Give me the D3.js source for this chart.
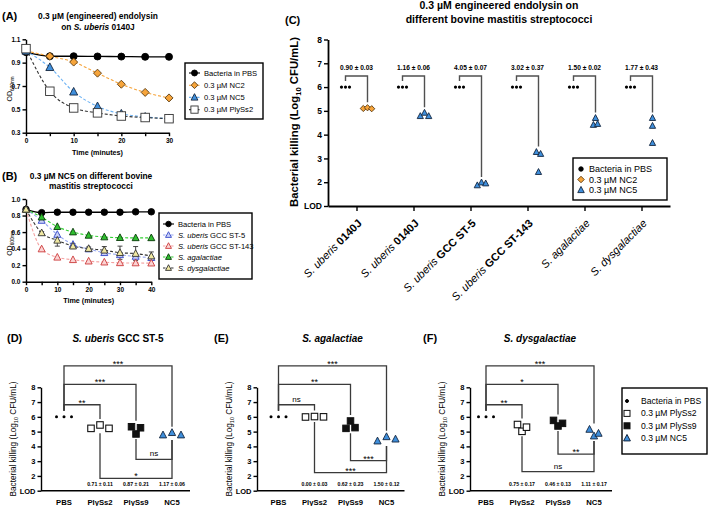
<!DOCTYPE html>
<html><head><meta charset="utf-8">
<script src="https://cdn.jsdelivr.net/npm/d3@7"></script>
<style>body{margin:0;background:#fff}svg{display:block}</style>
</head><body><script>
// ================= DATA =================
// Panel A
const timeA = [0,5,10,15,20,25,30];
const odA_PBS = [0.99,0.955,0.955,0.953,0.952,0.95,0.95];
const odA_NC2 = [1.0,0.955,0.905,0.81,0.715,0.645,0.598];
const odA_NC5 = [1.0,0.86,0.65,0.525,0.462,0.435,0.42];
const odA_PlySs2 = [1.02,0.655,0.512,0.47,0.443,0.43,0.42];
const ticksA_y = [0.3,0.5,0.7,0.9,1.1];
const ticksA_x = [0,5,10,15,20,25,30];
const legendA = ["Bacteria in PBS","0.3 µM NC2","0.3 µM NC5","0.3 µM PlySs2"];
// Panel B
const timeB = [0,5,10,15,20,25,30,35,40];
const odB_PBS = [0.875,0.835,0.84,0.84,0.84,0.84,0.84,0.845,0.845];
const odB_ST5 = [0.875,0.74,0.57,0.45,0.395,0.35,0.325,0.305,0.29];
const odB_ST143 = [0.875,0.395,0.295,0.265,0.248,0.236,0.228,0.226,0.224];
const odB_Aga = [0.875,0.78,0.665,0.60,0.56,0.54,0.532,0.53,0.53];
const odB_Dys = [0.875,0.59,0.50,0.43,0.40,0.38,0.35,0.34,0.31];
const errB_Dys = [0,0.015,0.07,0.03,0.02,0.045,0.08,0.085,0.05];
const ticksB_y = [0,0.2,0.4,0.6,0.8,1.0];
const ticksB_x = [0,5,10,15,20,25,30,35,40];
// Panel C
const cSpecies = ["S. uberis","S. uberis","S. uberis","S. uberis","S. agalactiae","S. dysgalactiae"];
const cStrain = ["0140J","0140J","GCC ST-5","GCC ST-143","",""];
const cTreatment = ["NC2","NC5","NC5","NC5","NC5","NC5"];
const cPBS = [[6,6,6],[6,6,6],[6,6,6],[6,6,6],[6,6,6],[6,6,6]];
const cTreated = [[5.1,5.13,5.09],[4.78,4.92,4.78],[1.87,1.99,1.95],[3.27,2.43,3.19],[4.70,4.41,4.45],[4.70,4.37,3.65]];
const cDiff = ["0.90 ± 0.03","1.16 ± 0.06","4.05 ± 0.07","3.02 ± 0.37","1.50 ± 0.02","1.77 ± 0.43"];
const killTicks = [1,2,3,4,5,6,7,8];
// Panels D, E, F
const killCats = ["PBS","PlySs2","PlySs9","NC5"];
const sigPairs = [["PBS","NC5"],["PBS","PlySs9"],["PBS","PlySs2"],["PlySs9","NC5"],["PlySs2","NC5"]];
const dValues = [[6,6,6],[5.22,5.45,5.22],[5.33,4.84,5.26],[4.77,4.93,4.77]];
const eValues = [[6,6,6],[5.99,6.02,6.0],[5.22,5.72,5.27],[4.36,4.65,4.49]];
const fValues = [[6,6,6],[5.48,5.02,5.30],[5.76,5.38,5.56],[5.15,4.70,4.88]];
const dSig = ["***","***","**","ns","*"];
const eSig = ["***","**","ns","***","***"];
const fSig = ["***","*","**","**","ns"];
const dDiff = ["0.71 ± 0.11","0.87 ± 0.21","1.17 ± 0.06"];
const eDiff = ["0.00 ± 0.03","0.62 ± 0.23","1.50 ± 0.12"];
const fDiff = ["0.75 ± 0.17","0.46 ± 0.13","1.11 ± 0.17"];
const legendF = ["Bacteria in PBS","0.3 µM PlySs2","0.3 µM PlySs9","0.3 µM NC5"];

// ================= HELPERS =================
const FONT = '"Liberation Sans", Arial, Helvetica, sans-serif';
const svg = d3.select("body").append("svg").attr("width",709).attr("height",506)
  .style("font-family",FONT);

function styleAxis(g, fs, weight){
  g.attr("font-family",FONT).attr("font-size",fs).attr("font-weight",weight);
  g.select(".domain").attr("stroke","#000").attr("stroke-width",1.4);
  g.selectAll(".tick line").attr("stroke","#000").attr("stroke-width",1.4);
  g.selectAll(".tick text").attr("fill","#000");
}
function rich(g, x, y, parts, size, anchor, transform){
  const t = g.append("text").attr("x",x).attr("y",y).attr("font-size",size)
    .attr("text-anchor",anchor||"start").attr("fill","#000");
  if(transform) t.attr("transform",transform);
  parts.forEach(p=>{
    const [s,st] = typeof p==="string" ? [p,""] : p;
    const ts = t.append("tspan").text(s);
    if(st.includes("b")) ts.attr("font-weight","bold");
    if(st.includes("i")) ts.attr("font-style","italic");
    if(st.includes("s")) ts.attr("font-size",size*0.68).attr("dy",size*0.3);
    if(st.includes("r")) ts.attr("dy",-size*0.3);
  });
  return t;
}
function marker(g, type, x, y, s, fill, stroke, sw){
  let p;
  if(type==="circle") p = g.append("circle").attr("cx",x).attr("cy",y).attr("r",s/2);
  else if(type==="square") p = g.append("rect").attr("x",x-s/2).attr("y",y-s/2).attr("width",s).attr("height",s);
  else if(type==="diamond") p = g.append("path").attr("d",`M${x},${y-s/2}L${x+s/2},${y}L${x},${y+s/2}L${x-s/2},${y}Z`);
  else p = g.append("path").attr("d",`M${x},${y-s*0.55}L${x+s/2},${y+s*0.4}L${x-s/2},${y+s*0.4}Z`);
  p.attr("fill",fill).attr("stroke",stroke).attr("stroke-width",sw);
}
function swarm(vals, yScale, size, step){
  const idx = vals.map((v,i)=>i).sort((a,b)=>vals[b]-vals[a]);
  const rows = [];
  idx.forEach(i=>{
    const r = rows[rows.length-1];
    if(r && Math.abs(yScale(vals[i])-yScale(vals[r[0]])) < size*0.75) r.push(i); else rows.push([i]);
  });
  const off = vals.map(()=>0);
  rows.forEach(r=>{ r.sort((a,b)=>a-b); r.forEach((i,k)=>off[i]=(k-(r.length-1)/2)*step); });
  return off;
}

// ================= PANEL A & B (line charts) =================
function linePanel(cfg){
  const g = svg.append("g");
  const x = d3.scaleLinear().domain(cfg.xDomain).range(cfg.xRange);
  const y = d3.scaleLinear().domain(cfg.yDomain).range(cfg.yRange);
  const ya = g.append("g").attr("transform",`translate(${cfg.xRange[0]},0)`)
    .call(d3.axisLeft(y).tickValues(cfg.yTicks).tickFormat(d3.format(".1f")).tickSize(3.5).tickSizeOuter(0).tickPadding(2));
  styleAxis(ya,6.5,"bold");
  const xa = g.append("g").attr("transform",`translate(0,${cfg.yRange[0]})`)
    .call(d3.axisBottom(x).tickValues(cfg.xTicks).tickFormat(d=>d%10===0?d:"").tickSize(3.5).tickSizeOuter(0).tickPadding(2));
  styleAxis(xa,6.5,"bold");
  const line = d3.line().x((d,i)=>x(cfg.time[i])).y(d=>y(d)).curve(d3.curveMonotoneX);
  cfg.series.forEach(s=>{
    g.append("path").attr("d",line(s.values)).attr("fill","none").attr("stroke",s.line)
      .attr("stroke-width",s.dash?1.1:1.3).attr("stroke-dasharray",s.dash?"3,2":null);
  });
  cfg.series.forEach(s=>{ if(s.err) s.values.forEach((v,i)=>{
    const e=s.err[i]; if(!e) return; const xx=x(cfg.time[i]);
    g.append("path").attr("d",`M${xx},${y(v-e)}V${y(v+e)}M${xx-2.5},${y(v+e)}H${xx+2.5}M${xx-2.5},${y(v-e)}H${xx+2.5}`)
      .attr("stroke","#333").attr("stroke-width",0.9).attr("fill","none");
  });});
  cfg.series.forEach(s=>s.values.forEach((v,i)=>marker(g,s.shape,x(cfg.time[i]),y(v),s.size,s.fill,s.stroke,0.9)));
  // axis titles
  const midY = (cfg.yRange[0]+cfg.yRange[1])/2 + 3;
  rich(g,12,midY,[["OD",""],["600nm","s"]],7,"middle",`rotate(-90,12,${midY})`);
  rich(g,(cfg.xRange[0]+cfg.xRange[1])/2,cfg.timeY,[["Time (minutes)","b"]],7.2,"middle");
  // legend
  const L = cfg.legend;
  g.append("rect").attr("x",L.x).attr("y",L.y).attr("width",L.w).attr("height",L.h)
    .attr("fill","#fff").attr("stroke","#000").attr("stroke-width",1.4);
  cfg.series.forEach((s,i)=>{
    const yy = L.y + L.first + i*L.gap;
    g.append("line").attr("x1",L.x+4).attr("x2",L.x+15).attr("y1",yy).attr("y2",yy)
      .attr("stroke",s.line).attr("stroke-width",1.1).attr("stroke-dasharray",s.dash?"2.5,1.5":null);
    marker(g,s.shape,L.x+9.5,yy,s.size*0.85,s.fill,s.stroke,0.9);
    rich(g,L.x+19,yy+2.6,s.label,7.6,"start");
  });
  // title
  cfg.title.forEach((ln,i)=>rich(g,cfg.titleX,cfg.titleY+i*cfg.titleGap,ln,8.4,"middle"));
  rich(g,2,cfg.letterY,[[cfg.letter,"b"]],11,"start");
}

linePanel({
  letter:"(A)", letterY:20,
  title:[[["0.3 µM (engineered) endolysin","b"]],[["on ","b"],["S. uberis","bi"],[" 0140J","b"]]],
  titleX:98, titleY:19, titleGap:10.5,
  xDomain:[0,30], xRange:[26,169], yDomain:[0.3,1.1], yRange:[132.7,39.3],
  yTicks:ticksA_y, xTicks:ticksA_x, time:timeA, timeY:155,
  legend:{x:185,y:63,w:78,h:56,first:10,gap:12.2},
  series:[
    {values:odA_PBS, shape:"circle", size:7, fill:"#000", stroke:"#000", line:"#000", dash:false, label:[legendA[0]]},
    {values:odA_NC2, shape:"diamond", size:8, fill:"#f6a43a", stroke:"#5a3a10", line:"#f6a43a", dash:true, label:[legendA[1]]},
    {values:odA_NC5, shape:"triangle", size:8, fill:"#3f8fdc", stroke:"#14263e", line:"#6cb2f4", dash:true, label:[legendA[2]]},
    {values:odA_PlySs2, shape:"square", size:8.5, fill:"#fff", stroke:"#333", line:"#333", dash:true, label:[legendA[3]]}
  ]
});

linePanel({
  letter:"(B)", letterY:180,
  title:[[["0.3 µM NC5 on different bovine","b"]],[["mastitis streptococci","b"]]],
  titleX:91, titleY:179, titleGap:10,
  xDomain:[0,40], xRange:[26,151.3], yDomain:[0,1], yRange:[281.7,199],
  yTicks:ticksB_y, xTicks:ticksB_x, time:timeB, timeY:303,
  legend:{x:159,y:213,w:93,h:66,first:11,gap:11},
  series:[
    {values:odB_PBS, shape:"circle", size:6.5, fill:"#000", stroke:"#000", line:"#000", dash:false, label:["Bacteria in PBS"]},
    {values:odB_ST5, shape:"triangle", size:7, fill:"#c9d0f7", stroke:"#3548c8", line:"#97a8f2", dash:true, label:[["S. uberis","i"]," GCC ST-5"]},
    {values:odB_ST143, shape:"triangle", size:7, fill:"#fbd3d3", stroke:"#cc3a3a", line:"#f4a0a0", dash:true, label:[["S. uberis","i"]," GCC ST-143"]},
    {values:odB_Aga, shape:"triangle", size:7, fill:"#2fbf2f", stroke:"#0a3a0a", line:"#35d035", dash:true, label:[["S. agalactiae","i"]]},
    {values:odB_Dys, err:errB_Dys, shape:"triangle", size:7, fill:"#f1e9a2", stroke:"#333", line:"#333", dash:true, label:[["S. dysgalactiae","i"]]}
  ]
});

// ================= PANEL C =================
(function(){
  const g = svg.append("g");
  const x = d3.scalePoint().domain(d3.range(cSpecies.length)).range([328,670]).padding(0.5);
  const y = d3.scaleLinear().domain([1,8]).range([206,39.5]);
  const ya = g.append("g").attr("transform","translate(328,0)")
    .call(d3.axisLeft(y).tickValues(killTicks).tickFormat(d=>d===1?"LOD":d).tickSize(4).tickSizeOuter(0).tickPadding(2));
  styleAxis(ya,8.5,"bold");
  ya.select(".domain").attr("stroke-width",1.8);
  const xa = g.append("g").attr("transform","translate(0,206)")
    .call(d3.axisBottom(x).tickSize(5).tickSizeOuter(0).tickFormat(""));
  styleAxis(xa,8,"bold");
  xa.select(".domain").attr("stroke-width",1.8);
  // category labels
  cSpecies.forEach((sp,i)=>{
    const parts = [[sp,"i"]]; if(cStrain[i]) parts.push([" "+cStrain[i],"b"]);
    rich(g,0,0,parts,11,"end",`translate(${x(i)+6},224) rotate(-45)`);
  });
  // points & brackets
  cSpecies.forEach((sp,i)=>{
    const xp = x(i)-11, xt = x(i)+11;
    const topY = y(6)-11;
    const maxT = d3.max(cTreated[i]);
    g.append("path").attr("d",`M${xp},${y(6)-6}V${topY}H${xt}V${y(maxT)-5.5}`)
      .attr("fill","none").attr("stroke","#505050").attr("stroke-width",1.4);
    rich(g,(xp+xt)/2,topY-6,[[cDiff[i],"b"]],6.6,"middle");
    const op = swarm(cPBS[i],y,4,4);
    cPBS[i].forEach((v,k)=>marker(g,"circle",xp+op[k],y(v),3.2,"#000","#000",0));
    const ot = swarm(cTreated[i],y,6,4.2);
    const isNC2 = cTreatment[i]==="NC2";
    cTreated[i].forEach((v,k)=>marker(g,isNC2?"diamond":"triangle",xt+ot[k],y(v),6.2,
      isNC2?"#f6a43a":"#3f8fdc",isNC2?"#5a3a10":"#14263e",0.9));
  });
  // axis title
  rich(g,298,122,[["Bacterial killing (Log","b"],["10","bs"],[" CFU/mL)","br"]],11.3,"middle","rotate(-90,298,122)");
  // title
  rich(g,499,9,[["0.3 µM engineered endolysin on","b"]],10.5,"middle");
  rich(g,499,23,[["different bovine mastitis streptococci","b"]],10.5,"middle");
  rich(g,285,24,[["(C)","b"]],11,"start");
  // legend
  g.append("rect").attr("x",573).attr("y",158).attr("width",94).attr("height",42)
    .attr("fill","#fff").attr("stroke","#000").attr("stroke-width",1.4);
  const items = [["circle","#000","#000",4.5,"Bacteria in PBS"],["diamond","#f6a43a","#5a3a10",6.5,"0.3 µM NC2"],["triangle","#3f8fdc","#14263e",6.5,"0.3 µM NC5"]];
  items.forEach((it,k)=>{
    const yy = 169+k*10.5;
    marker(g,it[0],581,yy,it[3],it[1],it[2],0.9);
    rich(g,589,yy+3,[it[4]],9,"start");
  });
})();

// ================= PANELS D, E, F =================
function killPanel(cfg){
  const g = svg.append("g");
  const y = d3.scaleLinear().domain([1,8]).range([490.7,387.3]);
  const x = d3.scalePoint().domain(killCats).range([cfg.c0,cfg.c0+3*36]);
  const ya = g.append("g").attr("transform",`translate(${cfg.ax},0)`)
    .call(d3.axisLeft(y).tickValues(killTicks).tickFormat(d=>d===1?"LOD":d).tickSize(3.5).tickSizeOuter(0).tickPadding(2));
  styleAxis(ya,7.5,"bold");
  g.append("line").attr("x1",cfg.ax).attr("x2",x("NC5")+18).attr("y1",y(1)).attr("y2",y(1))
    .attr("stroke","#000").attr("stroke-width",1.4);
  killCats.forEach(c=>rich(g,x(c),y(1)+14.5,[[c,"b"]],7.7,"middle"));
  // points
  cfg.values.forEach((vals,ci)=>{
    const c = killCats[ci];
    if(c==="PBS"){
      const o = swarm(vals,y,4,7.5);
      vals.forEach((v,k)=>marker(g,"circle",x(c)+o[k],y(v),3,"#000","#000",0));
    } else {
      const o = swarm(vals,y,7,9);
      vals.forEach((v,k)=>{
        if(c==="PlySs2") marker(g,"square",x(c)+o[k],y(v),6.5,"#fff","#111",1.1);
        else if(c==="PlySs9") marker(g,"square",x(c)+o[k],y(v),6.5,"#111","#111",1);
        else marker(g,"triangle",x(c)+o[k],y(v),7.2,"#3f8fdc","#14263e",0.9);
      });
    }
  });
  // brackets
  const vOf = c=>cfg.values[killCats.indexOf(c)];
  const lvls = [9.45,8.2,6.82,cfg.low[0],cfg.low[1]];
  sigPairs.forEach((pr,k)=>{
    const x1 = x(pr[0]), x2 = x(pr[1]);
    const ly = y(lvls[k]);
    let d;
    if(k<3) d = `M${x1},${y(d3.max(vOf(pr[0])))-6}V${ly}H${x2}V${y(d3.max(vOf(pr[1])))-6}`;
    else d = `M${x1},${y(d3.min(vOf(pr[0])))+5}V${ly}H${x2}V${y(d3.min(vOf(pr[1])))+5}`;
    g.append("path").attr("d",d).attr("fill","none").attr("stroke","#3a3a3a").attr("stroke-width",1.3);
    const lab = cfg.sig[k];
    rich(g,(x1+x2)/2,ly-(lab==="ns"?3:-1),[lab],lab==="ns"?8:9,"middle");
  });
  cfg.diff.forEach((t,k)=>rich(g,x(killCats[k+1]),486,[[t,"b"]],5.2,"middle"));
  // axis title
  const ty = 439;
  rich(g,cfg.ax-25,ty,[["Bacterial killing (Log",""],["10","s"],[" CFU/mL)","r"]],8.2,"middle",`rotate(-90,${cfg.ax-25},${ty})`);
  rich(g,(cfg.c0+cfg.c0+108)/2,342,cfg.title,10,"middle");
  rich(g,cfg.letterX,342,[[cfg.letter,"b"]],11,"start");
}
killPanel({letter:"(D)",letterX:7,ax:41,c0:64,values:dValues,sig:dSig,diff:dDiff,low:[3.12,1.84],
  title:[["S. uberis","bi"],[" GCC ST-5","b"]]});
killPanel({letter:"(E)",letterX:214,ax:257,c0:278.5,values:eValues,sig:eSig,diff:eDiff,low:[3.03,2.22],
  title:[["S. agalactiae","bi"]]});
killPanel({letter:"(F)",letterX:423,ax:470,c0:486,values:fValues,sig:fSig,diff:fDiff,low:[3.48,2.29],
  title:[["S. dysgalactiae","bi"]]});

// legend F
(function(){
  const g = svg.append("g");
  g.append("rect").attr("x",622).attr("y",388).attr("width",85).attr("height",66)
    .attr("fill","#fff").attr("stroke","#000").attr("stroke-width",1.4);
  const items = [["circle","#000","#000",3],["square","#fff","#111",6],["square","#111","#111",6],["triangle","#3f8fdc","#14263e",6.8]];
  items.forEach((it,k)=>{
    const yy = 401+k*12.4;
    marker(g,it[0],627,yy,it[3],it[1],it[2],1);
    rich(g,641,yy+3,[legendF[k]],8.6,"start");
  });
})();
</script></body></html>
